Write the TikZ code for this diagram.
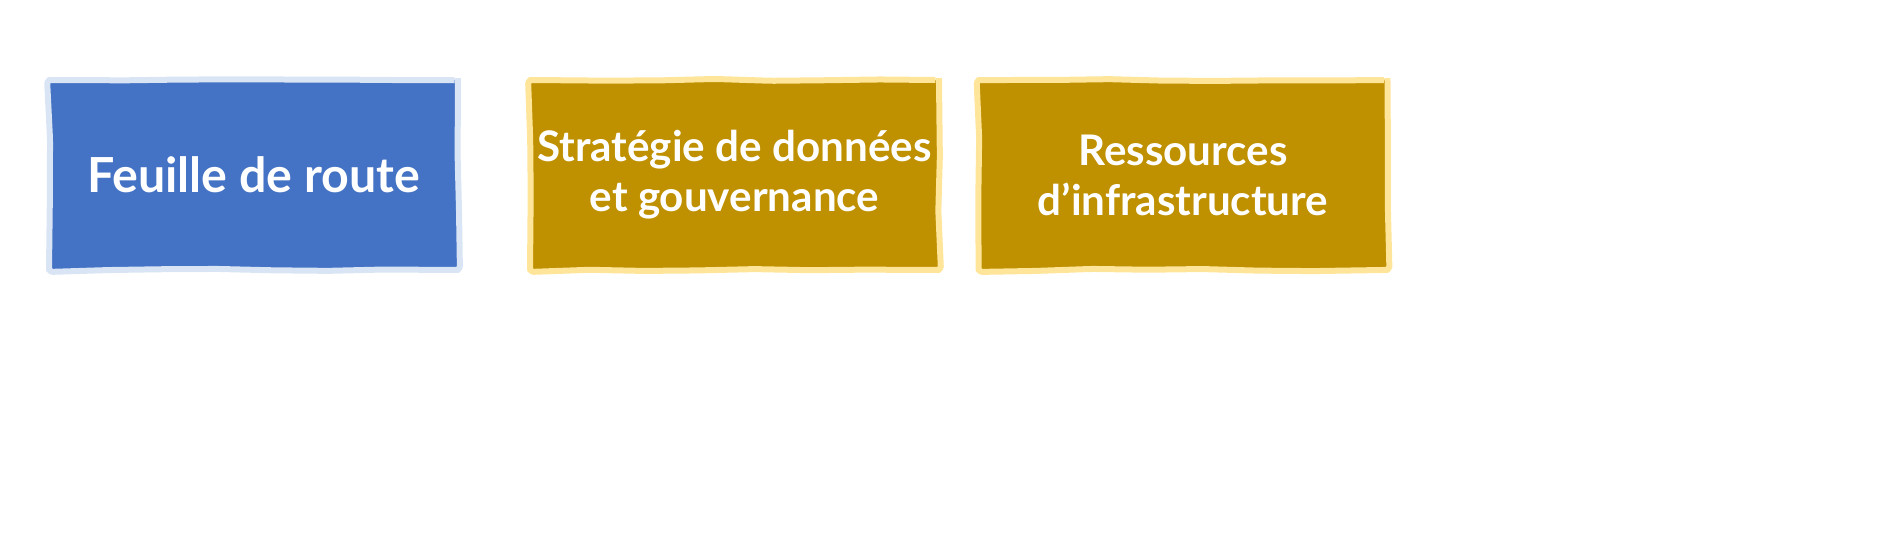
\documentclass[tikz,border=0pt]{standalone}
\usepackage{fontspec}
\setmainfont{Lato}
\usetikzlibrary{decorations.pathmorphing}
\definecolor{RouteClr}{rgb}{0.267,0.447,0.769}
\definecolor{RouteEdge}{rgb}{0.85,0.90,0.96}
\definecolor{GoldClr}{rgb}{0.75,0.565,0}
\definecolor{GoldEdge}{rgb}{1,0.90,0.60}

\begin{document}
\begin{tikzpicture}[x=0.02cm,y=0.02cm,
  card/.style={minimum width=8.18cm,minimum height=3.8cm,
    line width=0.12cm,line join=round,text=white,align=center,inner sep=0pt,
    decorate,decoration={random steps,segment length=1.1cm,amplitude=0.025cm},
    rounded corners=2pt},
  roadcard/.style={card,fill=RouteClr,draw=RouteEdge,
    font=\fontsize{27.5}{29}\selectfont\bfseries},
  goldcard/.style={card,fill=GoldClr,draw=GoldEdge,
    font=\fontsize{24}{28.5}\selectfont\bfseries}]
\pgfmathsetseed{11}
\useasboundingbox (0,0) rectangle (1899,560);

\node[roadcard] (route) at (253.5,385) {Feuille de route};
\node[goldcard] (data) at (734.5,385) {Stratégie de données\\et gouvernance};
\node[goldcard] (infra) at (1183,385) {Ressources\\d’infrastructure};
\end{tikzpicture}
\end{document}
